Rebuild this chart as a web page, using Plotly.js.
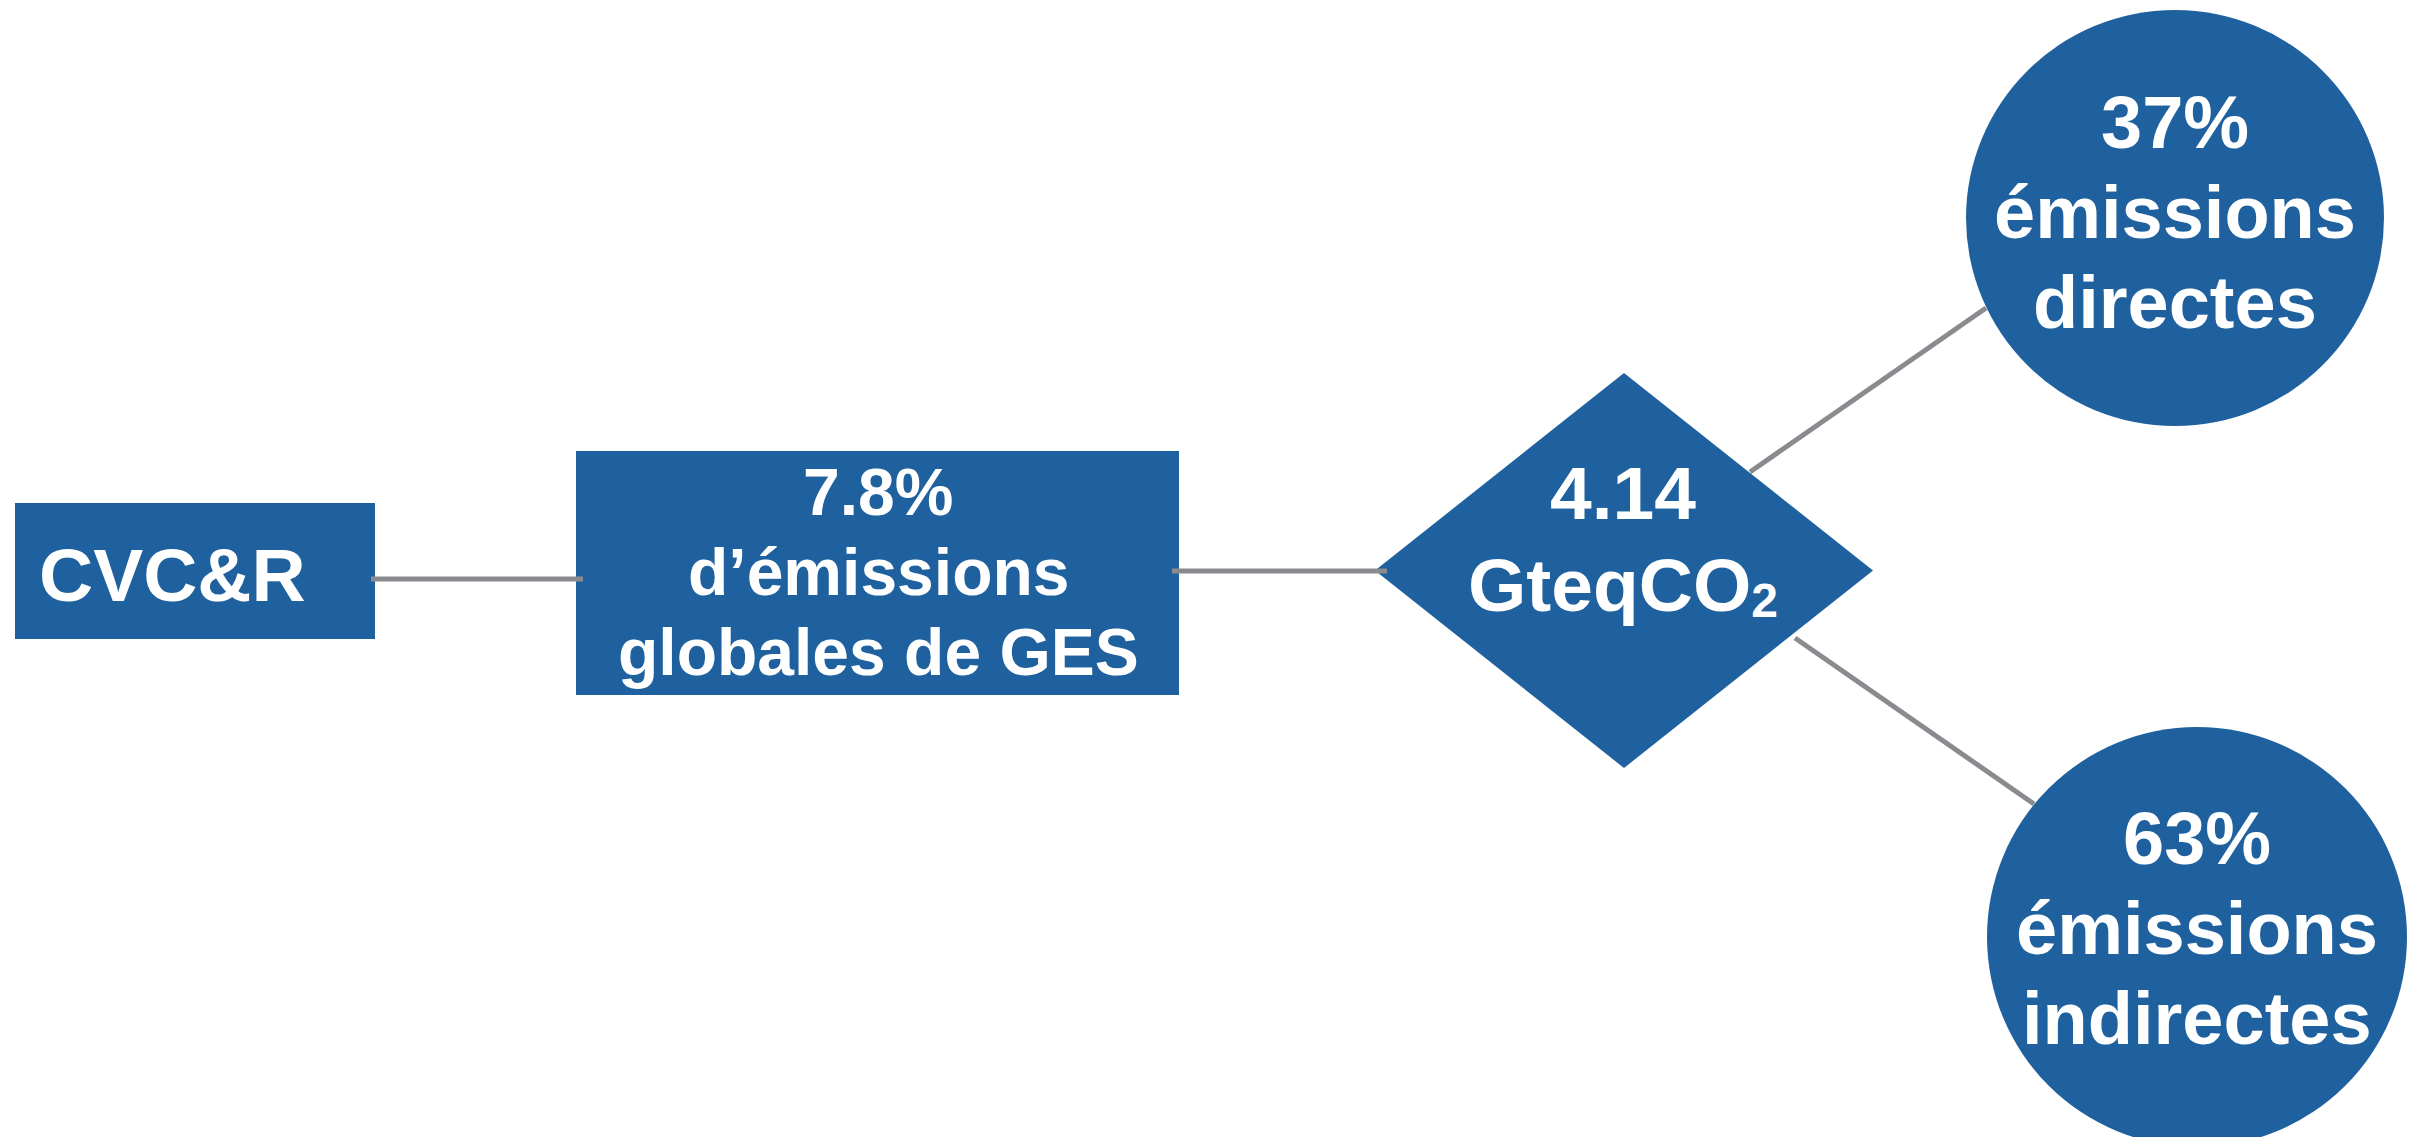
<!DOCTYPE html>
<html>
<head>
<meta charset="utf-8">
<script src="https://cdn.plot.ly/plotly-3.0.1.min.js"></script>
<style>
  html, body { margin: 0; padding: 0; background: #ffffff; }
  #chart { width: 2421px; height: 1137px; }
</style>
</head>
<body>
<div id="chart"></div>
<script>
// ---- data ----
const nodeLabels = [
  "CVC&R",
  "7.8%<br>d’émissions<br>globales de GES",
  "4.14<br>GteqCO<span style=\"font-size:48px;baseline-shift:-6px\">2</span>",
  "37%<br>émissions<br>directes",
  "63%<br>émissions<br>indirectes"
];
const nodeKinds = ["rect", "rect", "diamond", "circle", "circle"];
const links = [[0, 1], [1, 2], [2, 3], [2, 4]];

// ---- layout geometry (pixel space of the picture) ----
const W = 2421, H = 1137;
const BLUE = "#1f619e";
const GREY = "#8a8b8f";
const nodeGeom = [
  {x0: 15, x1: 375, y0: 503, y1: 639, tx: 172, ty: 575, gap: 0, size: 75},
  {x0: 576, x1: 1179, y0: 451, y1: 695, tx: 878, ty: 492, gap: 80, size: 66},
  {x0: 1375, x1: 1873, y0: 373, y1: 768, tx: 1623, ty: 493, gap: 92, size: 75},
  {x0: 1966, x1: 2384, y0: 10, y1: 426, tx: 2175, ty: 122, gap: 90, size: 74},
  {x0: 1987, x1: 2407, y0: 727, y1: 1147, tx: 2197, ty: 838, gap: 90, size: 74}
];
const linkGeom = [
  {x0: 371, y0: 579, x1: 583, y1: 579},
  {x0: 1172, y0: 571, x1: 1387, y1: 571},
  {x0: 1750, y0: 472, x1: 1986, y1: 308},
  {x0: 1795, y0: 638, x1: 2034, y1: 804}
];

const shapes = [];
nodeKinds.forEach((k, i) => {
  const g = nodeGeom[i];
  if (k === "rect") {
    shapes.push({type: "rect", xref: "x", yref: "y", x0: g.x0, x1: g.x1, y0: g.y0, y1: g.y1,
      fillcolor: BLUE, line: {width: 0}, layer: "below"});
  } else if (k === "circle") {
    shapes.push({type: "circle", xref: "x", yref: "y", x0: g.x0, x1: g.x1, y0: g.y0, y1: g.y1,
      fillcolor: BLUE, line: {width: 0}, layer: "below"});
  } else {
    const cx = (g.x0 + g.x1) / 2, cy = (g.y0 + g.y1) / 2;
    shapes.push({type: "path", xref: "x", yref: "y",
      path: `M ${g.x0} ${cy} L ${cx} ${g.y0} L ${g.x1} ${cy} L ${cx} ${g.y1} Z`,
      fillcolor: BLUE, line: {width: 0}, layer: "below"});
  }
});
links.forEach((lk, i) => {
  const g = linkGeom[i];
  shapes.push({type: "line", xref: "x", yref: "y", x0: g.x0, y0: g.y0, x1: g.x1, y1: g.y1,
    line: {color: GREY, width: 5}, layer: "above"});
});

const annotations = [];
nodeLabels.forEach((lab, i) => {
  const g = nodeGeom[i];
  lab.split("<br>").forEach((line, j) => {
    annotations.push({
      x: g.tx, y: g.ty + j * g.gap, xref: "x", yref: "y",
      text: "<b>" + line + "</b>", showarrow: false,
      xanchor: "center", yanchor: "middle",
      font: {family: "Liberation Sans, Arial, Helvetica, sans-serif", size: g.size, color: "#ffffff"}
    });
  });
});

const layout = {
  width: W, height: H,
  margin: {l: 0, r: 0, t: 0, b: 0, pad: 0},
  paper_bgcolor: "#ffffff", plot_bgcolor: "#ffffff",
  showlegend: false,
  xaxis: {range: [0, W], visible: false, fixedrange: true},
  yaxis: {range: [H, 0], visible: false, fixedrange: true},
  shapes: shapes,
  annotations: annotations
};

Plotly.newPlot("chart", [{x: [], y: [], type: "scatter", mode: "markers", hoverinfo: "skip"}], layout,
  {staticPlot: true, displayModeBar: false});
</script>
</body>
</html>
